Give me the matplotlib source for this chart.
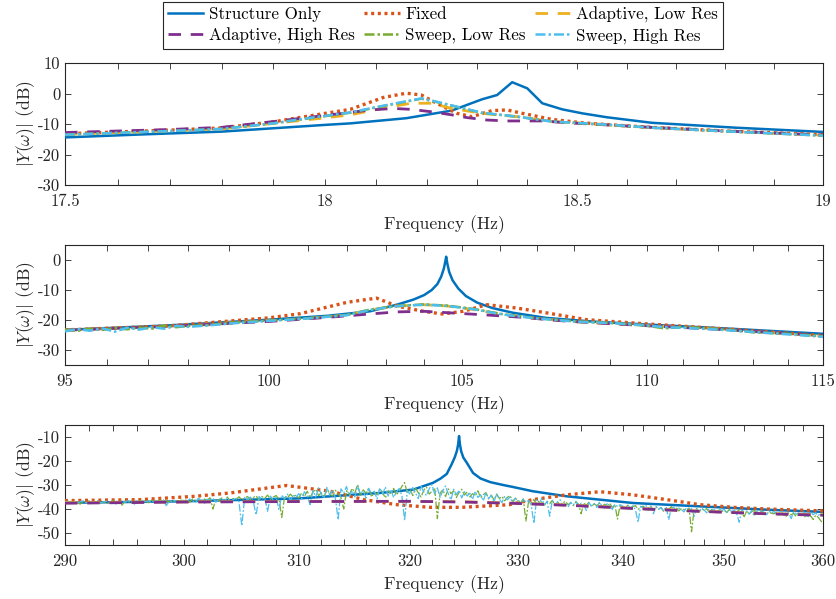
import numpy as np
import matplotlib
matplotlib.use("Agg")
import matplotlib.pyplot as plt
from matplotlib.ticker import FixedLocator, FixedFormatter, NullFormatter

plt.rcParams['font.family'] = ['cmr10', 'DejaVu Serif']
plt.rcParams['mathtext.fontset'] = 'cm'
plt.rcParams['axes.unicode_minus'] = False
plt.rcParams['axes.formatter.use_mathtext'] = True

labels = ["Structure Only", "Fixed", "Adaptive, Low Res",
          "Adaptive, High Res", "Sweep, Low Res", "Sweep, High Res"]
colors = ["#0072BD", "#D95319", "#EDB120", "#7E2F8E", "#77AC30", "#4DBEEE"]

# ---------------- Panel 1 (17.5 - 19 Hz) ----------------
p1_so_f = [17.5, 17.65, 17.8, 17.9, 18.0, 18.05, 18.16, 18.25, 18.31, 18.34, 18.37, 18.40, 18.43, 18.47,
           18.51, 18.56, 18.65, 18.82, 19.0]
p1_so_db = [-14.4, -13.4, -12.5, -11.4, -10.3, -9.8, -8.1, -5.6, -1.9, -0.5, 3.7, 1.7, -3.2, -5.2,
            -6.5, -7.8, -9.6, -11.2, -12.6]
p1_fx_f = [17.5, 17.6, 17.7, 17.8, 17.9, 17.95, 18.05, 18.115, 18.16, 18.19, 18.22, 18.26, 18.29, 18.33,
           18.36, 18.39, 18.45, 18.51, 18.57, 18.65, 18.8, 19.0]
p1_fx_db = [-13.2, -12.6, -12.0, -11.3, -9.3, -7.9, -5.2, -1.3, 0.1, -0.5, -3.2, -6.5, -7.6, -5.6,
            -5.4, -6.5, -8.5, -9.6, -10.3, -11.1, -12.3, -13.5]
p1_alr_f = [17.5, 17.6, 17.7, 17.8, 17.9, 18.0, 18.05, 18.13, 18.17, 18.21, 18.25, 18.31, 18.38, 18.45,
            18.57, 18.65, 18.8, 19.0]
p1_alr_db = [-13.4, -12.8, -12.2, -11.6, -9.8, -8.0, -7.0, -4.3, -3.2, -3.2, -4.9, -6.5, -7.6, -9.2,
             -10.3, -11.2, -12.3, -13.7]
p1_ahr_f = [17.5, 17.6, 17.7, 17.8, 17.9, 18.0, 18.09, 18.135, 18.17, 18.21, 18.25, 18.28, 18.32, 18.36,
            18.40, 18.43, 18.48, 18.57, 18.65, 18.8, 19.0]
p1_ahr_db = [-12.8, -12.3, -11.8, -11.1, -9.2, -7.2, -5.4, -4.9, -5.2, -6.0, -7.0, -7.9, -8.7, -9.0,
             -9.0, -9.0, -9.6, -10.4, -11.1, -12.3, -13.6]
p1_sl_f = [17.5, 17.6, 17.7, 17.8, 17.9, 17.95, 18.05, 18.115, 18.19, 18.22, 18.26, 18.31, 18.38, 18.45,
           18.57, 18.65, 18.8, 19.0]
p1_sl_db = [-13.5, -12.9, -12.3, -11.6, -9.8, -8.6, -6.3, -4.1, -1.7, -2.8, -4.4, -6.4, -7.6, -9.2,
            -10.4, -11.2, -12.4, -13.8]
p1_sh_f = [17.5, 17.6, 17.7, 17.8, 17.9, 17.95, 18.05, 18.115, 18.19, 18.22, 18.26, 18.31, 18.38, 18.45,
           18.57, 18.65, 18.8, 19.0]
p1_sh_db = [-13.5, -12.9, -12.3, -11.6, -9.8, -8.5, -6.2, -4.0, -1.6, -2.7, -4.3, -6.3, -7.6, -9.2,
            -10.3, -11.2, -12.4, -13.8]

# ---------------- Panel 2 (95 - 115 Hz) ----------------
p2_so_f = [95, 97.5, 100, 101.5, 102.59, 103.29, 103.72, 104.0, 104.2, 104.35, 104.45, 104.52, 104.56,
           104.58, 104.61, 104.66, 104.75, 104.9, 105.1, 105.4, 105.8, 106.36, 107.25, 108.5, 110, 112.5, 115]
p2_so_db = [-23.3, -21.8, -19.9, -18.6, -17.1, -14.9, -13.2, -11.7, -10.0, -8.0, -5.5, -2.8, -0.3,
            1.1, -1.2, -4.0, -6.8, -9.5, -12.0, -14.2, -16.0, -17.6, -19.3, -20.5, -21.5, -23.0, -24.6]
p2_fx_f = [95, 97.5, 100, 100.8, 102.0, 102.76, 103.3, 103.98, 104.48, 105.03, 105.65, 106.45, 107.25,
           108.35, 110, 112.5, 115]
p2_fx_db = [-23.3, -22.0, -19.3, -17.9, -14.1, -12.7, -15.4, -17.1, -18.0, -17.1, -14.9, -16.0, -17.6,
            -19.9, -21.3, -23.2, -25.2]
p2_alr_f = [95, 97.5, 100, 101, 102, 102.59, 103.29, 103.98, 104.58, 105.3, 106.1, 106.98, 108.07,
            110, 112, 115]
p2_alr_db = [-23.4, -22.0, -20.3, -19.5, -18.4, -16.6, -15.4, -14.9, -15.3, -16.5, -18.2, -19.5, -20.6,
             -21.8, -23.0, -25.4]
p2_ahr_f = [95, 97.5, 100, 101, 101.82, 102.59, 103.29, 103.98, 104.67, 105.74, 106.6, 107.6, 108.5,
            110, 112, 115]
p2_ahr_db = [-23.4, -22.1, -20.5, -19.6, -18.8, -18.0, -17.3, -17.1, -17.6, -18.4, -19.1, -20.2, -20.9,
             -21.9, -23.1, -25.2]
p2_sw_f = [95, 95.3, 95.6, 95.9, 96.2, 96.5, 96.8, 97.1, 97.4, 97.7, 98, 98.5, 99, 100, 101, 102,
           102.6, 103.3, 104.0, 104.6, 105.3, 106.1, 107.0, 108.1, 109, 110, 110.5, 111, 112, 113, 114, 115]
p2_sl_db = [-23.2, -23.6, -22.9, -23.3, -22.7, -23.1, -22.5, -22.9, -21.9, -22.4, -22.0, -21.7, -21.0,
            -20.2, -19.4, -18.3, -16.5, -15.3, -14.8, -15.2, -16.3, -18.1, -19.4, -20.5, -21.0, -21.9,
            -22.8, -22.3, -23.0, -24.1, -24.6, -25.4]
p2_sh_db = [-23.8, -23.0, -23.6, -22.8, -23.9, -22.6, -23.2, -22.4, -22.9, -22.0, -22.3, -21.8, -21.2,
            -20.3, -19.5, -18.4, -16.6, -15.4, -14.9, -15.3, -16.4, -18.2, -19.5, -20.6, -21.0, -21.8,
            -22.4, -22.6, -23.2, -24.0, -24.8, -25.6]

# ---------------- Panel 3 (290 - 360 Hz) ----------------
p3_so_f = [290, 300, 310, 317.3, 320.3, 322.1, 322.8, 323.36, 323.8, 324.1, 324.3, 324.42, 324.5,
           324.58, 324.7, 324.9, 325.2, 325.8, 326.5, 327.4, 328.5, 329.5, 331.4, 334.6, 341.0, 347.6,
           354.3, 360]
p3_so_db = [-37.4, -36.8, -35.6, -33.3, -31.9, -29.1, -27.3, -25.4, -21.5, -18.5, -15.8, -13.0, -9.6,
            -13.0, -16.0, -18.6, -20.6, -25.0, -27.3, -28.8, -29.9, -30.8, -32.6, -34.7, -37.5, -38.9,
            -40.3, -41.2]
p3_fx_f = [290, 296.3, 300.97, 304.0, 308.9, 312.8, 315.8, 318.8, 321.8, 324.8, 329.2, 331.4, 334.6,
           337.8, 341.0, 344.3, 347.6, 350.9, 354.3, 360]
p3_fx_db = [-36.5, -36.1, -34.7, -33.3, -30.2, -32.6, -36.1, -38.2, -39.3, -39.3, -38.2, -36.1, -34.1,
            -32.8, -34.1, -36.1, -38.2, -39.3, -40.0, -40.8]
p3_alr_f = [290, 300, 310, 320, 325, 330, 335, 341, 347.6, 354.3, 360]
p3_alr_db = [-37.4, -37.0, -36.8, -36.8, -37.0, -37.6, -38.4, -39.7, -40.9, -41.9, -42.4]
p3_ahr_f = [290, 300, 310, 320, 325, 330, 335, 341, 347.6, 354.3, 360]
p3_ahr_db = [-37.6, -37.1, -36.9, -36.8, -37.1, -37.7, -38.5, -39.8, -41.0, -42.0, -42.6]
p3_sw_f = np.linspace(290, 360, 281)   # sweep sampled every 0.25 Hz
p3_sh_db = [
    -37.2, -36.7, -37.4, -36.9, -37.6, -37.0, -36.6, -37.3, -37.8, -36.8, -37.1, -36.5, -37.4, -37.0, -36.7, -37.5, -36.9, -37.9, -37.1, -36.6,
    -37.2, -36.5, -37.0, -38.3, -36.7, -37.2, -36.4, -37.0, -36.6, -37.5, -36.3, -36.9, -37.4, -36.2, -38.6, -36.8, -37.1, -36.4, -37.3, -36.7,
    -36.2, -37.0, -35.8, -36.6, -37.4, -35.6, -36.3, -37.8, -35.9, -36.5, -35.4, -37.2, -36.0, -35.5, -36.8, -35.3, -37.0, -36.1, -35.6, -36.9,
    -47.0, -35.2, -36.4, -35.0, -36.8, -42.5, -34.8, -36.0, -35.2, -41.0, -34.6, -36.2, -35.0, -40.2, -34.2, -35.8, -33.8, -36.5, -34.4, -35.0,
    -33.6, -35.8, -32.8, -34.6, -38.2, -32.4, -35.0, -31.2, -33.8, -35.6, -31.0, -34.2, -32.0, -35.4, -44.5, -31.6, -33.4, -30.6, -34.8, -32.2,
    -35.0, -30.5, -33.6, -32.4, -35.4, -31.4, -34.0, -32.6, -35.8, -31.2, -33.8, -30.8, -34.6, -32.0, -35.2, -33.0, -31.4, -34.4, -44.8, -32.2,
    -34.0, -31.0, -33.4, -35.6, -30.6, -32.8, -34.4, -31.6, -29.8, -33.8, -31.2, -35.2, -32.4, -30.4, -33.6, -36.2, -31.8, -34.0, -32.2, -35.4,
    -32.8, -34.6, -33.4, -36.0, -32.6, -35.2, -34.0, -36.6, -33.2, -35.6, -34.4, -37.0, -33.8, -35.8, -37.4, -34.6, -36.2, -35.0, -37.6, -35.4,
    -36.6, -38.0, -35.8, -37.2, -36.4, -38.4, -46.0, -36.2, -37.6, -35.6, -38.2, -36.8, -43.0, -36.4, -38.6, -37.0, -36.2, -38.8, -37.4, -39.2,
    -37.2, -38.4, -36.8, -39.0, -37.6, -38.2, -40.6, -37.4, -38.8, -37.8, -39.4, -37.2, -38.6, -39.6, -37.8, -38.4, -40.2, -38.0, -39.0, -38.2,
    -38.8, -40.0, -38.4, -39.6, -38.6, -40.4, -45.5, -38.8, -39.8, -38.4, -40.6, -39.0, -42.0, -38.8, -40.2, -39.4, -40.8, -39.0, -44.5, -39.6,
    -39.2, -40.8, -39.6, -40.2, -41.2, -39.4, -40.6, -39.8, -43.0, -40.0, -41.0, -39.6, -40.4, -41.6, -39.8, -40.8, -40.2, -41.4, -40.0, -40.6,
    -40.2, -41.6, -40.4, -41.0, -40.6, -42.0, -45.5, -40.4, -41.2, -40.8, -42.2, -40.6, -43.0, -41.0, -41.8, -40.6, -41.4, -42.4, -40.8, -41.6,
    -41.0, -42.2, -41.4, -40.8, -42.6, -41.2, -41.8, -44.0, -41.0, -42.2, -41.6, -42.8, -41.2, -42.0, -43.2, -41.4, -42.4, -41.6, -42.8, -41.8,
    -42.4]
p3_sl_db = [
    -37.6, -37.1, -36.8, -37.5, -37.0, -38.0, -36.9, -37.3, -36.6, -37.7, -37.2, -36.7, -37.5, -36.9, -37.8, -37.1, -36.5, -37.4, -37.0, -38.4,
    -36.8, -37.3, -36.6, -37.1, -37.6, -36.4, -37.0, -36.7, -37.4, -36.3, -37.2, -36.8, -36.2, -37.5, -36.6, -37.0, -36.4, -37.2, -36.9, -36.3,
    -36.8, -36.0, -37.2, -35.8, -36.5, -35.6, -37.0, -35.8, -36.4, -35.3, -40.0, -35.9, -36.6, -35.4, -36.2, -35.0, -36.8, -35.6, -36.0, -34.9,
    -36.2, -35.4, -34.8, -36.0, -35.2, -34.5, -36.4, -34.8, -35.6, -34.2, -36.0, -35.0, -34.4, -35.8, -43.5, -34.6, -35.4, -33.8, -35.0, -34.2,
    -35.4, -33.4, -34.8, -32.6, -35.2, -33.0, -31.8, -34.4, -33.2, -35.0, -31.6, -33.8, -34.6, -32.2, -33.6, -35.2, -40.0, -32.4, -34.0, -31.4,
    -33.2, -29.8, -34.6, -32.0, -33.4, -31.2, -35.0, -32.8, -34.0, -31.6, -33.2, -35.4, -32.4, -33.8, -31.4, -34.2, -32.6, -30.6, -29.0, -33.6,
    -32.0, -34.4, -31.4, -33.2, -35.0, -32.2, -30.8, -33.8, -32.6, -31.2, -44.0, -33.4, -32.0, -34.8, -31.6, -33.6, -32.4, -35.2, -33.0, -31.8,
    -34.2, -32.8, -35.0, -33.6, -34.6, -32.4, -35.4, -34.0, -33.2, -35.8, -34.2, -36.2, -33.8, -35.6, -34.8, -36.6, -35.2, -34.4, -36.8, -35.6,
    -36.2, -37.4, -35.8, -45.0, -36.8, -37.6, -36.0, -38.0, -36.6, -37.2, -38.4, -36.8, -37.8, -36.4, -38.2, -37.0, -38.6, -37.4, -36.8, -38.2,
    -37.4, -38.6, -37.0, -38.0, -42.0, -37.6, -38.4, -37.2, -39.0, -37.8, -38.6, -37.4, -39.2, -38.0, -38.8, -37.6, -39.4, -38.2, -44.2, -38.6,
    -38.8, -39.6, -38.4, -40.0, -39.0, -38.6, -40.2, -39.2, -38.8, -40.4, -39.4, -38.8, -40.6, -39.2, -40.0, -39.4, -41.0, -39.6, -40.2, -39.0,
    -40.4, -39.4, -40.8, -39.8, -40.2, -41.0, -39.6, -49.5, -40.4, -39.8, -41.2, -40.0, -40.6, -39.8, -41.4, -40.2, -40.8, -41.6, -40.4, -41.0,
    -40.6, -41.4, -40.2, -41.8, -40.8, -41.2, -40.4, -41.6, -43.2, -40.8, -42.0, -41.2, -40.6, -41.8, -42.4, -41.0, -41.6, -42.2, -41.2, -41.8,
    -42.0, -41.4, -42.6, -41.8, -42.2, -43.0, -41.6, -42.4, -41.8, -43.2, -42.0, -42.8, -42.4, -43.6, -42.2, -43.0, -44.4, -42.6, -43.4, -44.8,
    -46.0]

# axis settings
p1_xlim, p1_ylim = (17.5, 19), (-30, 10)
p1_xticks, p1_xticklabels = [17.5, 18, 18.5, 19], ["17.5", "18", "18.5", "19"]
p1_xminor = list(np.round(np.arange(17.5, 19.001, 0.1), 2))
p1_yticks = [-30, -20, -10, 0, 10]
p2_xlim, p2_ylim = (95, 115), (-35, 5)
p2_xticks, p2_xticklabels = [95, 100, 105, 110, 115], ["95", "100", "105", "110", "115"]
p2_xminor = list(range(95, 116, 1))
p2_yticks = [-30, -20, -10, 0]
p3_xlim, p3_ylim = (290, 360), (-55, -5)
p3_xticks, p3_xticklabels = [290, 300, 310, 320, 330, 340, 350, 360], \
    ["290", "300", "310", "320", "330", "340", "350", "360"]
p3_xminor = list(range(290, 361, 2))
p3_yticks = [-50, -40, -30, -20, -10]

W, H = 837, 599
fig = plt.figure(figsize=(W / 100, H / 100), dpi=100)

def ax_rect(top, bottom):
    return [65 / W, 1 - bottom / H, 758 / W, (bottom - top) / H]

axes = [fig.add_axes(ax_rect(63, 185)), fig.add_axes(ax_rect(245, 365)), fig.add_axes(ax_rect(425, 545))]

styles = {
    "so": dict(color=colors[0], lw=1.8, ls='-'),
    "fx": dict(color=colors[1], lw=2.4, ls=(0, (0.9, 1.1)), dash_capstyle='butt'),
    "alr": dict(color=colors[2], lw=2.0, ls=(0, (4.5, 3.5)), dash_capstyle='butt'),
    "ahr": dict(color=colors[3], lw=2.0, ls=(0, (4.5, 3.5)), dash_capstyle='butt'),
    "sl": dict(color=colors[4], lw=1.8, ls=(0, (4, 1.2, 1, 1.2)), dash_capstyle='butt'),
    "sh": dict(color=colors[5], lw=1.8, ls=(0, (4, 1.2, 1, 1.2)), dash_capstyle='butt'),
}

panels = [
    dict(ax=axes[0], data=[("so", p1_so_f, p1_so_db), ("fx", p1_fx_f, p1_fx_db), ("alr", p1_alr_f, p1_alr_db),
                           ("ahr", p1_ahr_f, p1_ahr_db), ("sl", p1_sl_f, p1_sl_db), ("sh", p1_sh_f, p1_sh_db)],
         xlim=p1_xlim, ylim=p1_ylim, xt=p1_xticks, xtl=p1_xticklabels, xm=p1_xminor, yt=p1_yticks),
    dict(ax=axes[1], data=[("so", p2_so_f, p2_so_db), ("fx", p2_fx_f, p2_fx_db), ("alr", p2_alr_f, p2_alr_db),
                           ("ahr", p2_ahr_f, p2_ahr_db), ("sl", p2_sw_f, p2_sl_db), ("sh", p2_sw_f, p2_sh_db)],
         xlim=p2_xlim, ylim=p2_ylim, xt=p2_xticks, xtl=p2_xticklabels, xm=p2_xminor, yt=p2_yticks),
    dict(ax=axes[2], data=[("so", p3_so_f, p3_so_db), ("fx", p3_fx_f, p3_fx_db), ("alr", p3_alr_f, p3_alr_db),
                           ("ahr", p3_ahr_f, p3_ahr_db), ("sl", p3_sw_f, p3_sl_db), ("sh", p3_sw_f, p3_sh_db)],
         xlim=p3_xlim, ylim=p3_ylim, xt=p3_xticks, xtl=p3_xticklabels, xm=p3_xminor, yt=p3_yticks),
]

order = ["so", "fx", "alr", "ahr", "sl", "sh"]
zorders = {"so": 3, "fx": 4, "sl": 5, "sh": 6, "alr": 7, "ahr": 8}
handles = {}
for pi, p in enumerate(panels):
    ax = p["ax"]
    for key, f, db in p["data"]:
        st = dict(styles[key])
        if pi == 2 and key in ("sl", "sh"):
            st["lw"] = 0.9
            st["ls"] = (0, (6, 1.5, 1.5, 1.5))
        z = zorders[key]
        if pi != 2 and key in ("sl", "sh"):
            z = z + 4
        ln, = ax.plot(f, db, zorder=z, **st)
        if pi == 0:
            handles[key] = ln
    ax.set_xscale('log')
    ax.set_xlim(*p["xlim"])
    ax.set_ylim(*p["ylim"])
    ax.xaxis.set_major_locator(FixedLocator(p["xt"]))
    ax.xaxis.set_major_formatter(FixedFormatter(p["xtl"]))
    ax.xaxis.set_minor_locator(FixedLocator(p["xm"]))
    ax.xaxis.set_minor_formatter(NullFormatter())
    ax.set_yticks(p["yt"])
    ax.set_yticklabels([str(v) for v in p["yt"]])
    ax.tick_params(axis='both', which='both', direction='in', top=True, right=True,
                   length=4.5, width=0.6, colors='0.15', labelsize=12, labelcolor='0.15')
    ax.tick_params(axis='x', which='major', pad=6)
    for s in ax.spines.values():
        s.set_linewidth(0.8)
        s.set_color('0.15')
    ax.set_xlabel("Frequency (Hz)", fontsize=12.7, color='0.15', labelpad=5)
    ax.set_ylabel(r"$|Y(\omega)|$ (dB)", fontsize=12.7, color='0.15', labelpad=1)

leg_keys = ["so", "ahr", "fx", "sl", "alr", "sh"]
leg_handles = [handles[k] for k in leg_keys]
leg_labels = [labels[order.index(k)] for k in leg_keys]
leg = fig.legend(leg_handles, leg_labels, loc='upper center', bbox_to_anchor=(443 / W, 1 - 1.5 / H),
                 ncol=3, fontsize=12.2, frameon=True, fancybox=False, framealpha=1, edgecolor='0.15',
                 handlelength=2.1, handletextpad=0.33, columnspacing=0.55, labelspacing=0.3,
                 borderpad=0.3, borderaxespad=0)
leg.get_frame().set_linewidth(0.8)

fig.savefig("out.png", dpi=100)
